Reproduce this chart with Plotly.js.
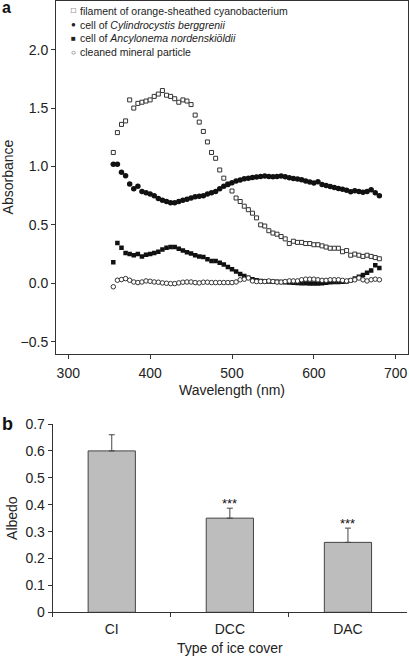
<!DOCTYPE html>
<html><head><meta charset="utf-8">
<script src="https://cdn.plot.ly/plotly-3.0.1.min.js"></script>
<style>html,body{margin:0;padding:0;background:#fff}#chart{width:409px;height:656px}</style>
</head><body><div id="chart"></div>
<script>
const wavelength = [355,360,365,370,375,380,385,390,395,400,405,410,415,420,425,430,435,440,445,450,455,460,465,470,475,480,485,490,495,500,505,510,515,520,525,530,535,540,545,550,555,560,565,570,575,580,585,590,595,600,605,610,615,620,625,630,635,640,645,650,655,660,665,670,675,680];
const cyanobacterium = [1.12,1.29,1.36,1.39,1.57,1.50,1.54,1.55,1.56,1.57,1.60,1.62,1.65,1.61,1.60,1.58,1.55,1.57,1.56,1.53,1.44,1.38,1.30,1.21,1.12,1.07,0.97,0.90,0.85,0.79,0.73,0.70,0.66,0.63,0.60,0.56,0.50,0.49,0.45,0.43,0.42,0.40,0.38,0.34,0.36,0.35,0.35,0.34,0.34,0.33,0.33,0.32,0.31,0.30,0.30,0.30,0.27,0.28,0.24,0.25,0.24,0.23,0.24,0.23,0.22,0.21];
const cylindrocystis = [1.02,1.02,0.95,0.92,0.85,0.81,0.83,0.785,0.775,0.765,0.75,0.725,0.71,0.70,0.69,0.69,0.70,0.71,0.72,0.73,0.74,0.745,0.75,0.765,0.775,0.785,0.81,0.83,0.845,0.86,0.875,0.885,0.895,0.90,0.905,0.91,0.915,0.918,0.915,0.912,0.915,0.918,0.912,0.903,0.898,0.892,0.886,0.875,0.866,0.858,0.869,0.846,0.837,0.829,0.82,0.812,0.806,0.797,0.783,0.792,0.786,0.78,0.786,0.80,0.775,0.749];
const ancylonema = [0.18,0.345,0.305,0.26,0.25,0.24,0.25,0.23,0.245,0.25,0.26,0.27,0.29,0.305,0.31,0.31,0.295,0.28,0.265,0.255,0.24,0.23,0.225,0.205,0.19,0.19,0.175,0.16,0.14,0.12,0.10,0.08,0.063,0.048,0.035,0.025,0.02,0.018,0.016,0.014,0.012,0.01,0.008,0.006,0.005,0.002,0.0,0.0,-0.002,-0.002,-0.003,0.0,0.005,0.008,0.01,0.01,0.012,0.015,0.025,0.04,0.055,0.07,0.09,0.11,0.155,0.13];
const mineral = [-0.03,0.026,0.032,0.04,0.026,0.011,0.006,0.011,0.02,0.017,0.011,0.009,0.003,0.0,-0.003,-0.003,0.003,0.009,0.011,0.011,0.006,0.003,0.009,0.009,0.006,0.006,0.006,0.006,0.006,0.006,0.011,0.03,0.035,0.045,0.02,0.015,0.015,0.015,0.02,0.015,0.01,0.01,0.015,0.02,0.02,0.02,0.03,0.035,0.035,0.035,0.03,0.025,0.025,0.03,0.03,0.03,0.025,0.02,0.025,0.03,0.045,0.03,0.02,0.03,0.035,0.03];
const legendLabels = ['filament of orange-sheathed cyanobacterium','cell of <i>Cylindrocystis berggrenii</i>','cell of <i>Ancylonema nordenskiöldii</i>','cleaned mineral particle'];
const legendGlyphs = ['\u25A1','\u25CF','\u25A0','\u25CB'];
const absTicks = [-0.5,0.0,0.5,1.0,1.5,2.0];
const wlTicks = [300,400,500,600,700];
const iceCover = ['CI','DCC','DAC'];
const albedo = [0.60,0.35,0.26];
const albedoErr = [0.06,0.037,0.053];
const significance = ['','***','***'];

const dark = '#333';
const traces = [
  {x: wavelength, y: cyanobacterium, mode:'markers', xaxis:'x', yaxis:'y',
   marker:{symbol:'square', size:4, color:'#fff', line:{color:dark, width:1}}},
  {x: wavelength, y: ancylonema, mode:'markers', xaxis:'x', yaxis:'y',
   marker:{symbol:'square', size:4.5, color:'#111', line:{width:0}}},
  {x: wavelength, y: mineral, mode:'markers', xaxis:'x', yaxis:'y',
   marker:{symbol:'circle', size:4.5, color:'#fff', line:{color:dark, width:1}}},
  {x: wavelength, y: cylindrocystis, mode:'markers', xaxis:'x', yaxis:'y',
   marker:{symbol:'circle', size:5.5, color:'#111', line:{width:0}}},
  {x: iceCover, y: albedo, type:'bar', xaxis:'x2', yaxis:'y2', width:0.4,
   marker:{color:'#bdbdbd', line:{color:'#444', width:1}},
   error_y:{type:'data', symmetric:false, array:albedoErr, arrayminus:[0,0,0], color:'#444', thickness:1, width:3}}
];

const W = 409, H = 656;
const px = v => v / W, py = v => 1 - v / H;
const annotations = [];
legendLabels.forEach((t, i) => {
  const yc = [11, 24.5, 38.3, 52.2][i];
  annotations.push({xref:'paper', yref:'paper', x:px(73.5), y:py(yc), xanchor:'center', yanchor:'middle',
    text: legendGlyphs[i], showarrow:false, font:{size:8, color:'#222'}});
  annotations.push({xref:'paper', yref:'paper', x:px(78), y:py(yc), xanchor:'left', yanchor:'middle',
    text: t, showarrow:false, font:{size:10.5, color:'#222'}});
});
significance.forEach((s, i) => {
  if (!s) return;
  annotations.push({xref:'x2', yref:'y2', x: iceCover[i], y: albedo[i] + albedoErr[i], xanchor:'center', yanchor:'bottom',
    text: s, showarrow:false, font:{size:13, color:'#111'}, yshift:-5});
});
annotations.push({xref:'paper', yref:'paper', x:0, y:py(-3), xanchor:'left', yanchor:'top', text:'<b>a</b>', showarrow:false, font:{size:16, color:'#111'}});
annotations.push({xref:'paper', yref:'paper', x:0, y:py(412), xanchor:'left', yanchor:'top', text:'<b>b</b>', showarrow:false, font:{size:18, color:'#111'}});

const axCommon = {showline:true, linecolor:dark, linewidth:1, ticks:'outside', ticklen:4, tickcolor:dark,
  showgrid:false, zeroline:false, tickfont:{size:14, color:'#222'}};

const layout = {
  width: W, height: H, margin:{l:0, r:0, t:0, b:0}, showlegend:false,
  paper_bgcolor:'#fff', plot_bgcolor:'#fff',
  font:{family:'"Liberation Sans", Arial, sans-serif', size:14, color:'#222'},
  xaxis: Object.assign({}, axCommon, {domain:[px(56), px(408)], range:[285,715], anchor:'y', mirror:true,
    tickvals: wlTicks, ticklabelstandoff:2, title:{text:'Wavelength (nm)', font:{size:14}, standoff:5}}),
  yaxis: Object.assign({}, axCommon, {domain:[py(353.7), py(0.5)], range:[-0.603,2.421], anchor:'x', mirror:true,
    tickvals: absTicks, tickformat:'.1f', title:{text:'Absorbance', font:{size:14}, standoff:8}}),
  xaxis2: Object.assign({}, axCommon, {domain:[px(52.7), px(407)], anchor:'y2', type:'category', tickson:'boundaries',
    ticklabelstandoff:4, title:{text:'Type of ice cover', font:{size:14}, standoff:8}}),
  yaxis2: Object.assign({}, axCommon, {domain:[py(612.3), py(424)], range:[0,0.7], dtick:0.1, tick0:0, anchor:'x2',
    title:{text:'Albedo', font:{size:14}, standoff:4}}),
  bargap: 0.6,
  annotations: annotations
};

Plotly.newPlot('chart', traces, layout, {staticPlot:true, displayModeBar:false});
</script>
</body></html>
